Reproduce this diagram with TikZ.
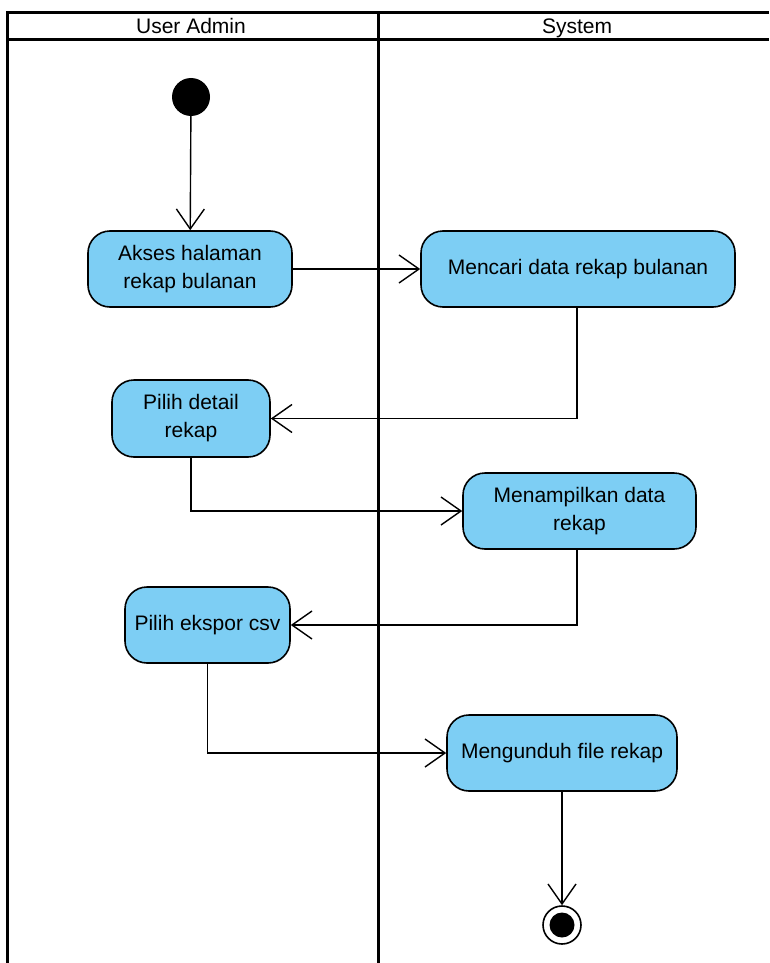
\documentclass[tikz,border=0pt]{standalone}
\usepackage{fontspec}
\setmainfont{Liberation Sans}
\usetikzlibrary{arrows.meta,positioning}
\definecolor{actfill}{RGB}{125,206,244}
\tikzset{
  act/.style={draw=black, line width=1.6pt, fill=actfill, rounded corners=22pt,
    align=center, font=\fontsize{21}{28}\selectfont, inner sep=0pt},
  flow/.style={line width=1.4pt, -{Straight Barb[length=20pt,width=28pt,line width=1.4pt]}},
  lane/.style={line width=3pt},
  hdr/.style={font=\fontsize{21}{24}\selectfont, inner sep=0pt, anchor=base}
}
\begin{document}
\begin{tikzpicture}[x=1pt,y=-1pt]
\useasboundingbox (0,0) rectangle (769,963);
\fill[white] (0,0) rectangle (769,963);
% swimlanes
\draw[lane] (7,13) -- (769,13);
\draw[lane] (7,40) -- (769,40);
\draw[lane] (7,11.5) -- (7,963);
\draw[lane] (378,11.5) -- (378,963);
\node[hdr] (h1) at (191,34) {User Admin};
\node[hdr] (h2) at (577,34) {System};
% nodes
\node[circle, fill=black, minimum size=38pt, inner sep=0pt] (start) at (191,97) {};
\node[act, minimum width=204pt, minimum height=76pt] (a) at (190,269) {Akses halaman\\rekap bulanan};
\node[act, minimum width=314pt, minimum height=76pt] (b) at (578,269) {Mencari data rekap bulanan};
\node[act, minimum width=158pt, minimum height=77pt] (c) at (191,418.5) {Pilih detail\\rekap};
\node[act, minimum width=233pt, minimum height=76pt] (d) at (579.5,511) {Menampilkan data\\rekap};
\node[act, minimum width=165pt, minimum height=76pt] (e) at (207.5,625) {Pilih ekspor csv};
\node[act, minimum width=230pt, minimum height=76pt] (f) at (562,753) {Mengunduh file rekap};
\node[circle, draw=black, line width=1.6pt, fill=white, minimum size=38pt, inner sep=0pt] (end) at (562,925) {};
\node[circle, fill=black, minimum size=25pt, inner sep=0pt] (endin) at (562,925) {};
% connectors
\draw[flow] (start) -- (a);
\draw[flow] (a) -- (b);
\draw[flow] (b.south -| 577,0) |- (c.east);
\draw[flow] (c.south) |- (d.west);
\draw[flow] (d.south -| 577,0) |- (e.east);
\draw[flow] (e.south) |- (f.west);
\draw[flow] (f.south) -- (end.north);
\end{tikzpicture}
\end{document}
